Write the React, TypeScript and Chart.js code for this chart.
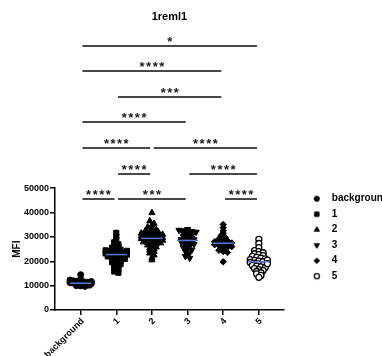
import React, { useEffect, useRef } from 'react';
import { Chart, registerables } from 'chart.js';
import { drawPoint } from 'chart.js/helpers';

Chart.register(...registerables);

const FONT = "'Liberation Sans', Arial, Helvetica, sans-serif";

// ---- data ----
const categories = ['background', '1', '2', '3', '4', '5'];

const bgValues = [14500, 12600, 12300, 12000, 11800, 11600, 11500, 11400, 11300, 11200, 11100, 11000, 11000, 10900,
  10800, 10700, 10600, 10500, 10400, 10300, 10200, 10000, 9900, 9700, 11700, 10800];

const s1Values = [31700, 30200, 29000, 27800, 27000, 26500, 26000, 25600, 25200, 24800, 24500, 24200, 24000, 23700,
  23400, 23200, 23000, 22800, 22500, 22300, 22000, 21800, 21500, 21200, 21000, 20700, 20400, 20000, 19600, 19200,
  18800, 18300, 17800, 17200, 16500, 15800, 15300, 23500, 22700, 24300];

const s2Values = [39900, 36500, 35500, 34800, 34000, 33500, 33000, 32600, 32200, 31800, 31500, 31200, 30900, 30600,
  30300, 30000, 29800, 29600, 29400, 29200, 29000, 28800, 28500, 28200, 27900, 27600, 27300, 27000, 26600, 26200,
  25800, 25400, 25000, 24500, 24000, 23300, 22500, 21500, 20500, 29700, 30800, 28600, 31000, 32000, 27500];

const s3Values = [33100, 32800, 32600, 32500, 32300, 32000, 31500, 31000, 30600, 30200, 29800, 29400, 29000, 28700,
  28400, 28100, 27800, 27400, 27000, 26600, 26200, 25700, 25200, 24700, 24100, 23500, 22800, 22000, 21300, 28900];

const s4Values = [35100, 33800, 32500, 31500, 30500, 29800, 29200, 28800, 28400, 28000, 27700, 27400, 27100, 26800,
  26500, 26200, 25800, 25400, 25000, 24500, 24000, 23600, 19800, 27500, 26000];

const s5Values = [29000, 27300, 25600, 24400, 24000, 23500, 23100, 22700, 22300, 22000, 21600, 21300, 21000, 20700,
  20400, 20100, 19800, 19500, 19200, 18900, 18600, 18300, 18000, 17700, 17400, 17000, 16600, 16200, 15800, 15300,
  14800, 14200, 13400, 20500, 19000];

const seriesValues = [bgValues, s1Values, s2Values, s3Values, s4Values, s5Values];

const yTickMax = 50000;
const yTickStep = 10000;

// significance comparisons (category indices, label, stacking level)
const sigFrom = [0, 0, 1, 0, 0, 2, 1, 3, 0, 1, 4];
const sigTo = [5, 4, 4, 3, 2, 5, 2, 5, 1, 3, 5];
const sigLabel = ['*', '****', '***', '****', '****', '****', '****', '****', '****', '***', '****'];
const sigLevel = [6, 5, 4, 3, 2, 2, 1, 1, 0, 0, 0];

// ---- styles ----
const markerStyles = [
  { pointStyle: 'circle', rotation: 0, fill: '#000', stroke: '#000', radius: 3, bw: 1 },
  { pointStyle: 'rect', rotation: 0, fill: '#000', stroke: '#000', radius: 3.6, bw: 1 },
  { pointStyle: 'triangle', rotation: 0, fill: '#000', stroke: '#000', radius: 3.6, bw: 1 },
  { pointStyle: 'triangle', rotation: 180, fill: '#000', stroke: '#000', radius: 3.6, bw: 1 },
  { pointStyle: 'rectRot', rotation: 0, fill: '#000', stroke: '#000', radius: 3.2, bw: 1 },
  { pointStyle: 'circle', rotation: 0, fill: '#fff', stroke: '#000', radius: 3, bw: 1.3 },
];

const SIG_BASE = 45500;
const SIG_STEP = 10500;

function swarmOffsets(values: number[], bin: number, step: number, maxHalf: number): number[] {
  const groups = new Map<number, number[]>();
  values.forEach((v, i) => {
    const k = Math.round(v / bin);
    if (!groups.has(k)) groups.set(k, []);
    groups.get(k)!.push(i);
  });
  const off = new Array(values.length).fill(0);
  groups.forEach((idx) => {
    const n = idx.length;
    const s = n > 1 ? Math.min(step, (2 * maxHalf) / (n - 1)) : 0;
    idx.forEach((id, k) => {
      off[id] = (k - (n - 1) / 2) * s;
    });
  });
  return off;
}

function median(vals: number[]): number {
  const s = [...vals].sort((a, b) => a - b);
  const m = Math.floor(s.length / 2);
  return s.length % 2 ? s[m] : (s[m - 1] + s[m]) / 2;
}

function makeIcon(st: typeof markerStyles[number]): HTMLCanvasElement {
  const c = document.createElement('canvas');
  c.width = 20;
  c.height = 10;
  const ctx = c.getContext('2d')!;
  ctx.fillStyle = st.fill;
  ctx.strokeStyle = st.stroke;
  ctx.lineWidth = st.bw;
  drawPoint(ctx, { pointStyle: st.pointStyle as any, rotation: st.rotation, radius: st.radius * 0.85, borderWidth: st.bw }, 5, 5);
  return c;
}

const extrasPlugin = {
  id: 'extras',
  afterDatasetsDraw(chart: any) {
    const { ctx, scales } = chart;
    const xs = scales.x;
    const ys = scales.y;
    ctx.save();
    ctx.strokeStyle = '#5a78d8';
    ctx.lineWidth = 1.5;
    seriesValues.forEach((vals, i) => {
      const m = median(vals);
      const py = ys.getPixelForValue(m);
      ctx.beginPath();
      ctx.moveTo(xs.getPixelForValue(i - 0.3), py);
      ctx.lineTo(xs.getPixelForValue(i + 0.3), py);
      ctx.stroke();
    });
    ctx.restore();
  },
  afterDraw(chart: any) {
    const { ctx, scales } = chart;
    const xs = scales.x;
    const ys = scales.y;
    ctx.save();
    ctx.strokeStyle = '#474747';
    ctx.lineWidth = 2;
    ctx.fillStyle = '#1a1a1a';
    ctx.font = `bold 13px ${FONT}`;
    (ctx as any).letterSpacing = '1.5px';
    ctx.textAlign = 'center';
    ctx.textBaseline = 'alphabetic';
    sigFrom.forEach((a, k) => {
      const b = sigTo[k];
      const py = Math.round(ys.getPixelForValue(SIG_BASE + sigLevel[k] * SIG_STEP));
      const x1 = xs.getPixelForValue(a + 0.05);
      const x2 = xs.getPixelForValue(b - 0.05);
      ctx.beginPath();
      ctx.moveTo(x1, py);
      ctx.lineTo(x2, py);
      ctx.stroke();
      ctx.fillText(sigLabel[k], (x1 + x2) / 2 + 0.75, py - 0.5);
    });
    ctx.restore();
  },
};

export default function App() {
  const ref = useRef<HTMLCanvasElement>(null);

  useEffect(() => {
    if (!ref.current) return;
    const icons = markerStyles.map(makeIcon);
    const datasets = seriesValues.map((vals, i) => {
      const off = swarmOffsets(vals, 1200, 0.12, 0.3);
      const st = markerStyles[i];
      return {
        label: categories[i],
        data: vals.map((v, j) => ({ x: i + off[j], y: v })),
        pointStyle: st.pointStyle,
        rotation: st.rotation,
        pointRadius: st.radius,
        pointBackgroundColor: st.fill,
        pointBorderColor: st.stroke,
        pointBorderWidth: st.bw,
        showLine: false,
      };
    });

    const chart = new Chart(ref.current, {
      type: 'scatter',
      data: { datasets: datasets as any },
      options: {
        animation: false,
        responsive: false,
        devicePixelRatio: 1,
        layout: { padding: 0 },
        scales: {
          x: {
            type: 'linear',
            min: -0.72,
            max: 5.7,
            afterBuildTicks: (s: any) => {
              s.ticks = categories.map((_, i) => ({ value: i }));
            },
            afterFit: (s: any) => {
              s.height = 46;
            },
            ticks: {
              autoSkip: false,
              minRotation: 45,
              maxRotation: 45,
              padding: 1,
              labelOffset: 2,
              color: '#000',
              font: { size: 9, weight: 'bold', family: FONT },
              callback: (v: any) => categories[Math.round(Number(v))],
            },
            grid: { drawOnChartArea: false, drawTicks: true, tickLength: 5, color: '#000', lineWidth: 1.5 },
            border: { display: true, color: '#000', width: 1.5 },
          },
          y: {
            type: 'linear',
            min: 0,
            max: yTickMax,
            afterFit: (s: any) => {
              s.width = 55;
            },
            ticks: {
              stepSize: yTickStep,
              padding: 1,
              color: '#000',
              font: { size: 9, weight: 'bold', family: FONT },
              callback: (v: any) => String(v),
            },
            title: {
              display: true,
              text: 'MFI',
              color: '#000',
              font: { size: 10, weight: 'bold', family: FONT },
              padding: { top: 11, bottom: 0 },
            },
            grid: { drawOnChartArea: false, drawTicks: true, tickLength: 5, color: '#000', lineWidth: 1.5 },
            border: { display: true, color: '#000', width: 1.5 },
          },
          gap: {
            type: 'linear',
            position: 'right',
            display: true,
            afterFit: (s: any) => {
              s.width = 27.5;
            },
            ticks: { display: false },
            grid: { display: false },
            border: { display: false },
          },
        },
        plugins: {
          title: {
            display: true,
            text: '1reml1',
            color: '#000',
            fullSize: false,
            font: { size: 11, weight: 'bold', family: FONT },
            padding: { top: 10, bottom: 165 },
          },
          legend: {
            display: true,
            position: 'right',
            align: 'start',
            fullSize: false,
            maxWidth: 140,
            labels: {
              usePointStyle: true,
              padding: 5.5,
              boxWidth: 10,
              boxHeight: 10,
              color: '#000',
              font: { size: 10, weight: 'bold', family: FONT },
              generateLabels: (c: any) =>
                c.data.datasets.map((ds: any, i: number) => ({
                  text: ds.label,
                  pointStyle: icons[i],
                  rotation: 0,
                  datasetIndex: i,
                  hidden: false,
                  lineWidth: 0,
                  fillStyle: 'transparent',
                  strokeStyle: 'transparent',
                  fontColor: '#000',
                })),
            },
          },
          tooltip: { enabled: false },
        },
      } as any,
      plugins: [extrasPlugin],
    });
    return () => chart.destroy();
  }, []);

  return (
    <div style={{ position: 'fixed', left: 0, top: 0, width: 382, height: 356, overflow: 'hidden', background: '#fff' }}>
      <canvas ref={ref} width={399} height={356} style={{ display: 'block' }} />
    </div>
  );
}
